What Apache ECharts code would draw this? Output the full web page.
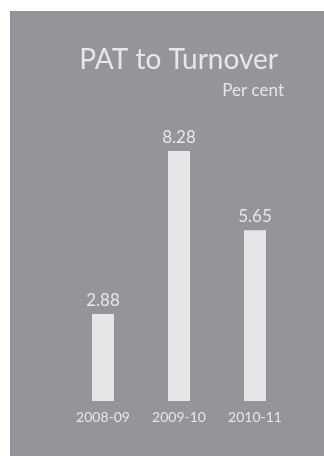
<!DOCTYPE html>
<html>
<head>
<meta charset="utf-8">
<script src="https://cdn.jsdelivr.net/npm/echarts@6/dist/echarts.min.js"></script>
<style>
  html, body { margin: 0; padding: 0; background: #ffffff; }
  #chart {
    position: absolute;
    left: 10px;
    top: 11px;
    width: 314px;
    height: 445px;
  }
</style>
</head>
<body>
<div id="chart"></div>
<script>
// data
var years = ['2008-09', '2009-10', '2010-11'];
var patToTurnover = [2.88, 8.28, 5.65];

var textColor = '#e6e7e8';
var font = 'Lato, "Open Sans", sans-serif';

var myChart = echarts.init(document.getElementById('chart'));
var option = {
  backgroundColor: '#939598',
  animation: false,
  title: [
    {
      text: 'PAT to Turnover',
      right: 46,
      top: 35,
      padding: 0,
      textStyle: { color: textColor, fontSize: 28, fontWeight: 'normal', fontFamily: font }
    },
    {
      text: 'Per cent',
      right: 40,
      top: 71,
      padding: 0,
      textStyle: { color: textColor, fontSize: 17, fontWeight: 'normal', fontFamily: font }
    }
  ],
  grid: {
    left: 55,
    right: 31,
    top: 88,
    bottom: 55
  },
  xAxis: {
    type: 'category',
    data: years,
    axisLine: { show: false },
    axisTick: { show: false },
    axisLabel: {
      color: textColor,
      fontSize: 14,
      fontFamily: font,
      margin: 9
    }
  },
  yAxis: {
    type: 'value',
    min: 0,
    max: 10,
    show: false
  },
  series: [
    {
      type: 'bar',
      data: patToTurnover,
      barWidth: 22,
      itemStyle: { color: '#e6e7e8' },
      label: {
        show: true,
        position: 'top',
        distance: 5,
        color: textColor,
        fontSize: 17,
        fontFamily: font,
        formatter: function (p) { return p.value.toFixed(2); }
      }
    }
  ]
};
myChart.setOption(option);
</script>
</body>
</html>
